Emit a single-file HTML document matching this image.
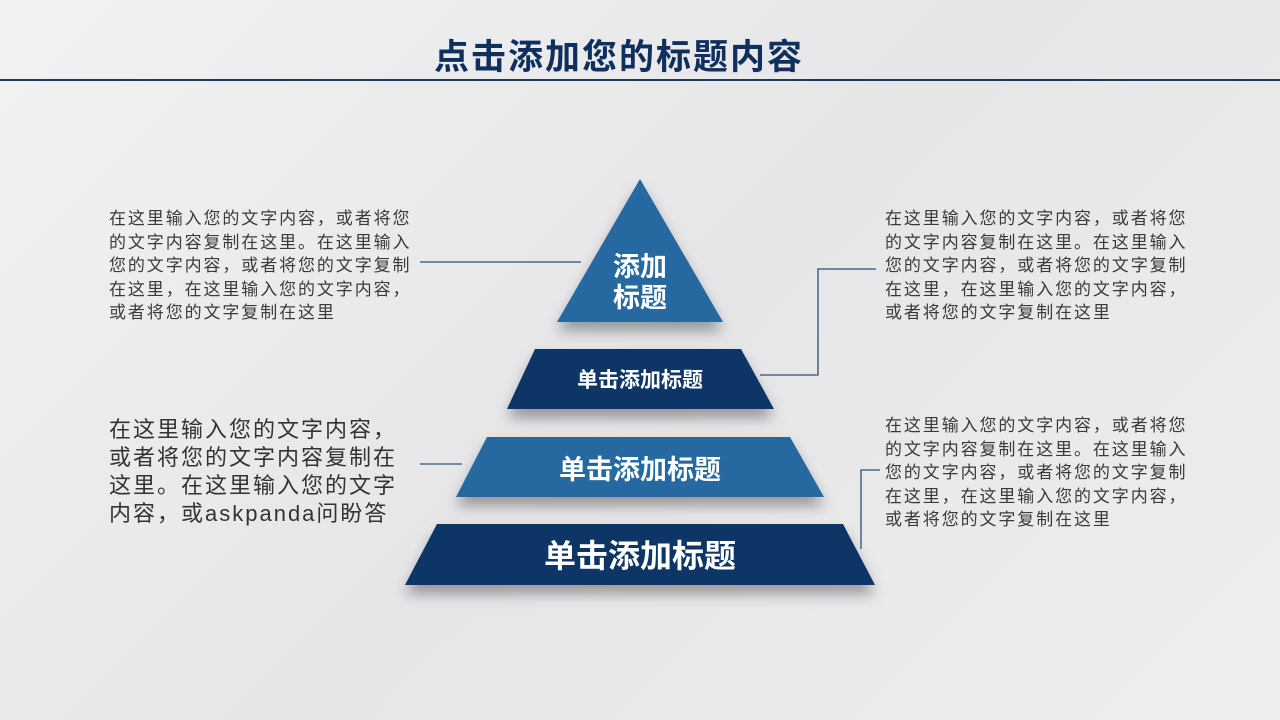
<!DOCTYPE html>
<html><head><meta charset="utf-8"><style>
body{margin:0;width:1280px;height:720px;overflow:hidden;background:linear-gradient(135deg,#f2f2f3 0%,#e6e6e8 50%,#eeeeef 100%);font-family:"Liberation Sans","Noto Sans CJK SC",sans-serif;position:relative}
.t{position:absolute;color:#3a3a3a;font-size:17px;letter-spacing:1.9px;line-height:23.5px;white-space:nowrap}
h1{position:absolute;left:0;width:1238px;top:29px;margin:0;text-align:center;font-size:35px;letter-spacing:2px;color:#0f2f5c;font-weight:bold}
.line{position:absolute;left:0;top:79px;width:1280px;height:2px;background:#1f3a60}
svg{position:absolute;left:0;top:0}
</style></head><body>
<h1>点击添加您的标题内容</h1>
<div class="line"></div>
<svg width="1280" height="720">
<defs><filter id="s" x="-20%" y="-20%" width="140%" height="160%"><feDropShadow dx="0" dy="9" stdDeviation="7" flood-color="#000" flood-opacity="0.35"/></filter></defs>
<g filter="url(#s)">
<polygon points="640,179 723,322 557,322" fill="#2868a0"/>
<polygon points="535,349 741,349 774,409 507,409" fill="#0c3466"/>
<polygon points="487,437 790,437 824,497 456,497" fill="#2868a0"/>
<polygon points="437,524 843,524 875,585 405,585" fill="#0c3466"/>
</g>
<g stroke="#2a4f7a" stroke-width="1.3" fill="none">
<line x1="420" y1="262" x2="581" y2="262"/>
<polyline points="760,375 818,375 818,269 876,269"/>
<line x1="420" y1="464" x2="462" y2="464"/>
<polyline points="861,549 861,470 880,470"/>
</g>
<g fill="#fff" font-family="Liberation Sans,Noto Sans CJK SC,sans-serif" font-weight="bold" text-anchor="middle">
<text x="640" y="276" font-size="27">添加</text>
<text x="640" y="307" font-size="27">标题</text>
<text x="640" y="387" font-size="21">单击添加标题</text>
<text x="640" y="479" font-size="27">单击添加标题</text>
<text x="640" y="567" font-size="32">单击添加标题</text>
</g>
</svg>
<div class="t" style="left:109px;top:207px">在这里输入您的文字内容，或者将您<br>的文字内容复制在这里。在这里输入<br>您的文字内容，或者将您的文字复制<br>在这里，在这里输入您的文字内容，<br>或者将您的文字复制在这里</div>
<div class="t" style="left:885px;top:207px">在这里输入您的文字内容，或者将您<br>的文字内容复制在这里。在这里输入<br>您的文字内容，或者将您的文字复制<br>在这里，在这里输入您的文字内容，<br>或者将您的文字复制在这里</div>
<div class="t" style="left:885px;top:414px">在这里输入您的文字内容，或者将您<br>的文字内容复制在这里。在这里输入<br>您的文字内容，或者将您的文字复制<br>在这里，在这里输入您的文字内容，<br>或者将您的文字复制在这里</div>
<div class="t" style="left:109px;top:416px;font-size:22px;letter-spacing:2px;line-height:28px;color:#333">在这里输入您的文字内容，<br>或者将您的文字内容复制在<br>这里。在这里输入您的文字<br>内容，或askpanda问盼答</div>
</body></html>
